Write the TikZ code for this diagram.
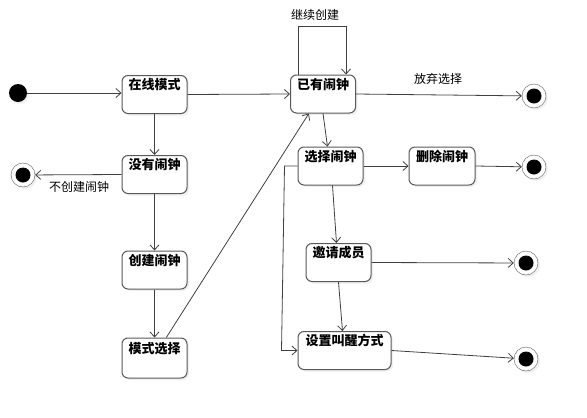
\documentclass[tikz,border=0pt]{standalone}
\usepackage{fontspec}
\usepackage{tikz}
\usetikzlibrary{arrows.meta,shadows}
\newfontfamily\cjk{Noto Sans CJK SC}

\tikzset{
  state/.style={draw=black!65, line width=1pt, rounded corners=6pt, fill=white,
    minimum width=65pt, minimum height=38pt, inner ysep=4pt,
    text height=10pt, text depth=20pt,
    font=\cjk\bfseries\fontsize{13pt}{13pt}\selectfont,
    drop shadow={opacity=0.12, shadow xshift=2pt, shadow yshift=-2pt}},
  initstate/.style={circle, fill=black, minimum size=18pt, inner sep=0pt,
    drop shadow={opacity=0.12, shadow xshift=2pt, shadow yshift=-2pt}},
  endstate/.style={circle, draw=black!65, fill=white, minimum size=24pt, inner sep=0pt,
    path picture={\fill[black] (path picture bounding box.center) circle (7.5pt);},
    drop shadow={opacity=0.12, shadow xshift=2pt, shadow yshift=-2pt}},
  lbl/.style={font=\cjk\fontsize{12pt}{12pt}\selectfont},
  edge/.style={->, draw=black!75, line width=0.8pt},
  >={Straight Barb[length=5pt,width=9pt]}
}

\begin{document}
\begin{tikzpicture}[x=1pt,y=-1pt]
\useasboundingbox (0,0) rectangle (587,418);
% states
\node [initstate] (start) at (18,93) {};
\node [state] (online) at (154.5,94.5) {在线模式};
\node [state] (have) at (323,94) {已有闹钟};
\node [state] (none) at (154.5,174.5) {没有闹钟};
\node [state] (create) at (154.5,270) {创建闹钟};
\node [state, minimum height=40pt] (modesel) at (154.5,358) {模式选择};
\node [state] (select) at (330.5,166) {选择闹钟};
\node [state, minimum width=66pt] (delete) at (442,166) {删除闹钟};
\node [state] (invite) at (338.5,262.5) {邀请成员};
\node [state, minimum width=93pt] (setwake) at (344.5,350.5) {设置叫醒方式};
% final states
\node [endstate] (endL) at (23,175) {};
\node [endstate] (endA) at (534,96) {};
\node [endstate] (endB) at (534,167) {};
\node [endstate] (endC) at (526,263) {};
\node [endstate] (endD) at (526,359) {};
% transitions
\draw [edge] (start) -- (start -| online.west);
\draw [edge] (online.east) -- (have.west);
\draw [edge] (online.south) -- (none.north);
\draw [edge] (none.west) -- (endL);
\draw [edge] (none.south) -- (create.north);
\draw [edge] (create.south) -- (modesel.north);
\draw [edge] (modesel.60) -- (have.234);
\draw [edge] ([xshift=-25pt]have.north) -- ++(0,-48) -| ([xshift=23pt]have.north);
\draw [edge] (have.east) -- (endA);
\draw [edge] (have.south) -- ([xshift=-3pt]select.north);
\draw [edge] (select.east) -- (delete.west);
\draw [edge] (delete.east) -- (endB);
\draw [edge] ([xshift=2pt]select.south) -- ([xshift=-2pt]invite.north);
\draw [edge] (select.west) -- ++(-13,0) -- ([xshift=-16pt]setwake.west) -- (setwake.west);
\draw [edge] (invite.south) -- ([xshift=-2pt]setwake.north);
\draw [edge] (invite.east) -- (endC);
\draw [edge] (setwake.east) -- (endD);
% labels
\node [lbl] (lcont) at (315,15) {继续创建};
\node [lbl] (lgive) at (438,79) {放弃选择};
\node [lbl] (lnot) at (79,187) {不创建闹钟};
\end{tikzpicture}
\end{document}
